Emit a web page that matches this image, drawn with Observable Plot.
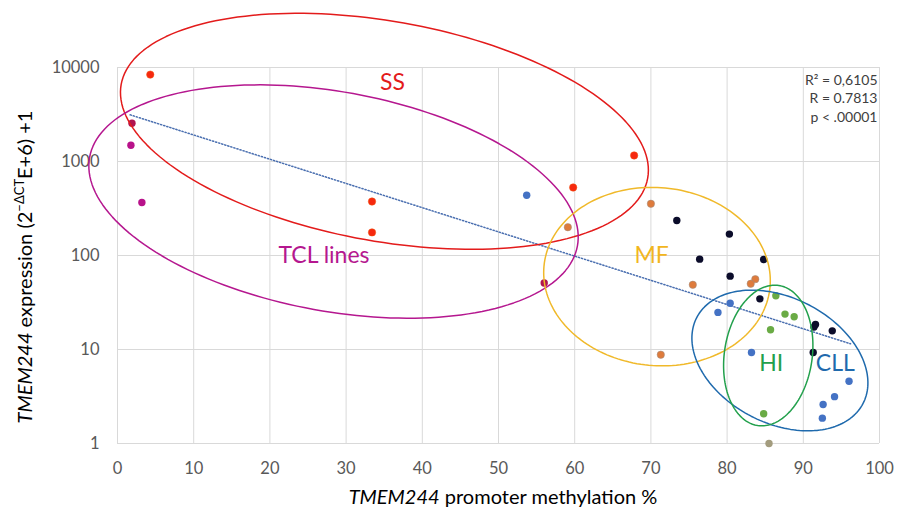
<!DOCTYPE html>
<html><head><meta charset="utf-8">
<script src="https://cdn.jsdelivr.net/npm/d3@7"></script>
<script src="https://cdn.jsdelivr.net/npm/@observablehq/plot@0.6"></script>
<style>
html,body{margin:0;padding:0;background:#fff;}
#chart{width:908px;height:518px;}
</style></head><body><div id="chart"></div>
<script>
// ---------- data ----------
const xTicks = [0,10,20,30,40,50,60,70,80,90,100];
const yTicks = [1,10,100,1000,10000];

const ssX = [4.3, 33.4, 33.4, 59.8, 67.8];
const ssY = [8400, 375, 176, 529, 1160];

const tclX = [1.76, 3.2];
const tclY = [1490, 366];

const crimsonX = [1.9, 56.0];
const crimsonY = [2550, 51];

const cllX = [53.7, 80.4, 78.8, 83.2, 96.0, 94.1, 92.6, 92.5];
const cllY = [438, 31, 24.8, 9.3, 4.6, 3.15, 2.6, 1.86];

const darkX = [73.4, 80.3, 76.4, 84.8, 80.4, 84.3, 91.6, 91.4, 93.8, 91.3];
const darkY = [236, 169, 91.4, 90.7, 60.3, 34.6, 18.5, 17.3, 15.8, 9.3];

const mfX = [70.0, 59.1, 75.5, 83.7, 83.1, 71.3];
const mfY = [355, 200, 48.8, 56, 50, 8.8];

const hiX = [86.4, 87.6, 88.8, 85.7, 84.8];
const hiY = [37.3, 23.8, 22.3, 16.2, 2.07];

const grayX = [85.5];
const grayY = [1.0];

// exponential trend line end points
const trendX = [1.66, 96.2];
const trendY = [3140, 11.5];

const groupNames = ["SS","TCL lines","MF","CLL","HI"];
const labelX = [36.1, 27.1, 70.1, 94.2, 85.8];
const labelY = [6920, 99.3, 99.3, 7.05, 7.05];

// ellipses: centre (data), semi-axes (px), angle (deg)
const ellCX = [35.03, 28.35, 70.8, 86.93, 85.4];
const ellCY = [2095, 375, 59.6, 7.64, 8.63];
const ellA = [267.4, 247.9, 113.5, 93.6, 70.8];
const ellB = [110, 109.7, 89, 62.7, 43.9];
const ellAng = [10.1, 10.3, 5.35, 27.3, -81.5];

const statsText = "R² = 0,6105\nR = 0.7813\np < .00001";

// ---------- styles ----------
const groupColors = ["#e31b1b", "#b5178f", "#f0b92a", "#1f6aad", "#22a04c"];
const W = 908, H = 518, mL = 117, mR = 29, mT = 67, mB = 75;
const ux = (W - mL - mR) / 100;   // px per x unit
const uy = (H - mT - mB) / 4;     // px per decade

function pts(xs, ys) { return xs.map((x, i) => ({x, y: ys[i]})); }

const ellData = [];
ellCX.forEach((cx, k) => {
  const th = ellAng[k] * Math.PI / 180, c = Math.cos(th), s = Math.sin(th);
  for (let i = 0; i <= 180; i++) {
    const t = i / 180 * 2 * Math.PI;
    const dx = ellA[k] * Math.cos(t) * c - ellB[k] * Math.sin(t) * s;
    const dy = ellA[k] * Math.cos(t) * s + ellB[k] * Math.sin(t) * c;
    ellData.push({k, x: cx + dx / ux, y: ellCY[k] * Math.pow(10, -dy / uy)});
  }
});

const font = "Lato, 'Open Sans', sans-serif";
const dotR = 3.7;

const plot = Plot.plot({
  width: W, height: H,
  marginLeft: mL, marginRight: mR, marginTop: mT, marginBottom: mB,
  style: {fontFamily: font, fontSize: "16px", color: "#595959", background: "white", overflow: "visible"},
  x: {domain: [0, 100]},
  y: {type: "log", domain: [1, 10000]},
  marks: [
    Plot.gridX(xTicks, {stroke: "#d9d9d9", strokeOpacity: 1, strokeWidth: 1}),
    Plot.gridY(yTicks, {stroke: "#d9d9d9", strokeOpacity: 1, strokeWidth: 1}),
    Plot.axisX(xTicks, {tickSize: 0, tickPadding: 19, label: null, fontSize: 16.5, fill: "#595959", tickFormat: d => String(d)}),
    Plot.axisY(yTicks, {tickSize: 0, tickPadding: 18, label: null, fontSize: 16.5, fill: "#595959", tickFormat: d => String(d)}),
    Plot.line(trendX.map((x, i) => ({x, y: trendY[i]})), {x: "x", y: "y", stroke: "#4a6fb0", strokeWidth: 1.5, strokeDasharray: "1.2,2"}),
    Plot.dot(pts(ssX, ssY), {x: "x", y: "y", r: dotR, fill: "#f6280f", stroke: "#f0500a", strokeWidth: 0.5}),
    Plot.dot(pts(tclX, tclY), {x: "x", y: "y", r: dotR, fill: "#b8128a"}),
    Plot.dot(pts(crimsonX, crimsonY), {x: "x", y: "y", r: dotR, fill: "#b01450"}),
    Plot.dot(pts(cllX, cllY), {x: "x", y: "y", r: dotR, fill: "#4472c4"}),
    Plot.dot(pts(darkX, darkY), {x: "x", y: "y", r: dotR, fill: "#0b0c2a"}),
    Plot.dot(pts(mfX, mfY), {x: "x", y: "y", r: dotR, fill: "#de7b3c", stroke: "#9a8a80", strokeWidth: 0.5}),
    Plot.dot(pts(hiX, hiY), {x: "x", y: "y", r: dotR, fill: "#6aab45"}),
    Plot.dot(pts(grayX, grayY), {x: "x", y: "y", r: dotR, fill: "#a39c7e"}),
    Plot.line(ellData, {x: "x", y: "y", z: "k", stroke: d => groupColors[d.k], strokeWidth: 1.5, curve: "linear"}),
    Plot.text(groupNames.map((t, i) => ({t, x: labelX[i], y: labelY[i], c: groupColors[i]})),
      {x: "x", y: "y", text: "t", fill: d => d.c === "#f0b92a" ? "#f2b61e" : d.c, fontSize: 23, fontFamily: font}),
    Plot.text([statsText], {frameAnchor: "top-right", text: d => d, textAnchor: "end", lineAnchor: "top",
      lineHeight: 1.33, dx: -2, dy: 4, fontSize: 14, fill: "#404040", fontFamily: font})
  ]
});

document.getElementById("chart").appendChild(plot);

const svg = d3.select(plot.tagName.toLowerCase() === "svg" ? plot : plot.querySelector("svg"));
// y-axis title
const yt = svg.append("text")
  .attr("transform", "translate(32,267) rotate(-90)")
  .attr("text-anchor", "middle")
  .attr("font-family", font).attr("font-size", 20).attr("fill", "#000");
yt.append("tspan").attr("font-style", "italic").text("TMEM244");
yt.append("tspan").text(" expression (2");
yt.append("tspan").attr("font-size", 13).attr("dy", -8).text("−ΔCT");
yt.append("tspan").attr("dy", 8).text("E+6) +1");
// x-axis title
const xt = svg.append("text")
  .attr("x", 503).attr("y", 504)
  .attr("text-anchor", "middle")
  .attr("font-family", font).attr("font-size", 20).attr("fill", "#000");
xt.append("tspan").attr("font-style", "italic").text("TMEM244");
xt.append("tspan").text(" promoter methylation %");
</script>
</body></html>
